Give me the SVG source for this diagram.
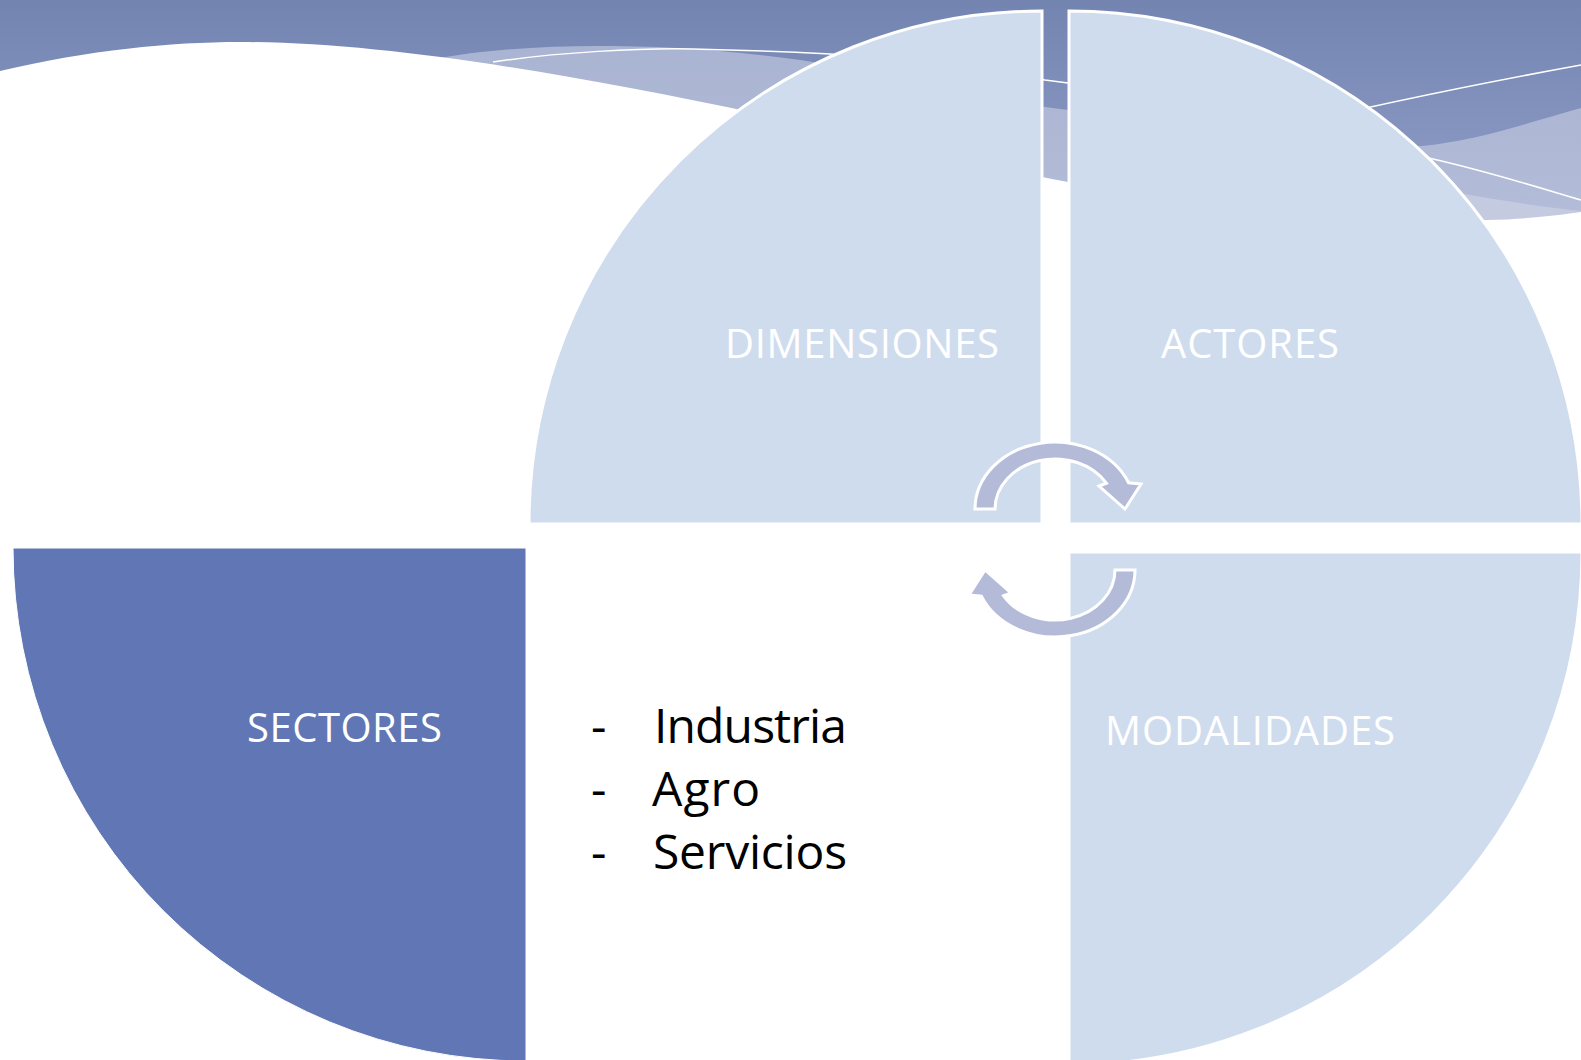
<svg xmlns="http://www.w3.org/2000/svg" width="1581" height="1060" viewBox="0 0 1581 1060">
  <defs>
    <linearGradient id="bandGrad" x1="0" y1="0" x2="0" y2="230" gradientUnits="userSpaceOnUse">
      <stop offset="0" stop-color="#7384b1"/>
      <stop offset="1" stop-color="#92a0c9"/>
    </linearGradient>
    <linearGradient id="lightBand" x1="0" y1="40" x2="0" y2="220" gradientUnits="userSpaceOnUse">
      <stop offset="0" stop-color="#a9b4d2"/>
      <stop offset="1" stop-color="#b3bcd8"/>
    </linearGradient>
    <style>
      .quad { fill: #cfdcee; stroke: #ffffff; stroke-width: 3; }
      .quad-dark { fill: #6176b4; stroke: #ffffff; stroke-width: 1; }
      .label { font-family: "Open Sans", "Noto Sans", sans-serif; font-size: 40px; fill: #ffffff; }
      .list { font-family: "Open Sans", "Noto Sans", sans-serif; font-size: 48px; fill: #000000; }
      .cyc { fill: #b3bbd9; stroke: #ffffff; stroke-width: 3; stroke-linejoin: miter; }
      .wline { fill: none; stroke: #ffffff; stroke-width: 1.5; }
    </style>
  </defs>

  <!-- background -->
  <g id="background">
    <rect x="0" y="0" width="1581" height="1060" fill="#ffffff"/>
    <rect x="0" y="0" width="1581" height="240" fill="url(#bandGrad)"/>
    <path d="M430,60 C480,50 540,46 600,46 C680,46 740,52 800,60 C900,75 980,95 1045,107 L1068,110 C1250,140 1350,150 1422,146 C1480,140 1530,122 1581,108 L1581,260 L430,260 Z" fill="url(#lightBand)"/>
    <path d="M1440,190 C1500,200 1540,207 1581,211 L1581,240 L1440,240 Z" fill="#c4cbe0"/>
    <path class="wline" d="M493,62 C560,52 640,48 693,49 C740,50 790,52 830,54 C900,60 980,70 1045,80 L1068,83 C1200,105 1330,135 1433,159 C1490,172 1540,188 1581,200"/>
    <path class="wline" d="M1250,135 Q1400,98 1581,65"/>
    <path d="M0,71 C90,50 170,42 240,42 C380,42 560,72 760,114 C900,145 1000,170 1068,182 C1250,210 1400,222 1487,220 C1530,219 1560,215 1581,212 L1581,1060 L0,1060 Z" fill="#ffffff"/>
  </g>

  <g id="node-dimensiones">
    <path class="quad" d="M1042,524 L529,524 A513,513 0 0 1 1042,11 Z"/>
    <text class="label" x="725" y="358" textLength="274">DIMENSIONES</text>
  </g>

  <g id="node-actores">
    <path class="quad" d="M1069,524 L1069,11 A513,513 0 0 1 1582,524 Z"/>
    <text class="label" x="1161" y="358" textLength="178">ACTORES</text>
  </g>

  <g id="node-modalidades">
    <path class="quad" d="M1069,552 L1582,552 A513,513 0 0 1 1069,1065 Z"/>
    <text class="label" x="1105" y="745" textLength="290">MODALIDADES</text>
  </g>

  <g id="node-sectores">
    <path class="quad-dark" d="M526,548 L526,1061 A513,513 0 0 1 13,548 Z"/>
    <text class="label" x="247" y="742" textLength="195">SECTORES</text>
  </g>

  <g id="node-list">
    <text class="list" x="591" y="743">-</text>
    <text class="list" x="654" y="743" textLength="193">Industria</text>
    <text class="list" x="591" y="806">-</text>
    <text class="list" x="652" y="806" textLength="108">Agro</text>
    <text class="list" x="591" y="869">-</text>
    <text class="list" x="653" y="869" textLength="194">Servicios</text>
  </g>

  <g id="connectors">
    <path id="cycle-top" class="cyc" d="M975,509 A80,67 0 0 1 1128.6,482.8 L1141,484 L1125,509 L1099,486 L1106.4,483.2 A60,50 0 0 0 995,509 Z"/>
    <path id="cycle-bottom" class="cyc" transform="rotate(180 1055 539.5)" d="M975,509 A80,67 0 0 1 1128.6,482.8 L1141,484 L1125,509 L1099,486 L1106.4,483.2 A60,50 0 0 0 995,509 Z"/>
  </g>
</svg>
